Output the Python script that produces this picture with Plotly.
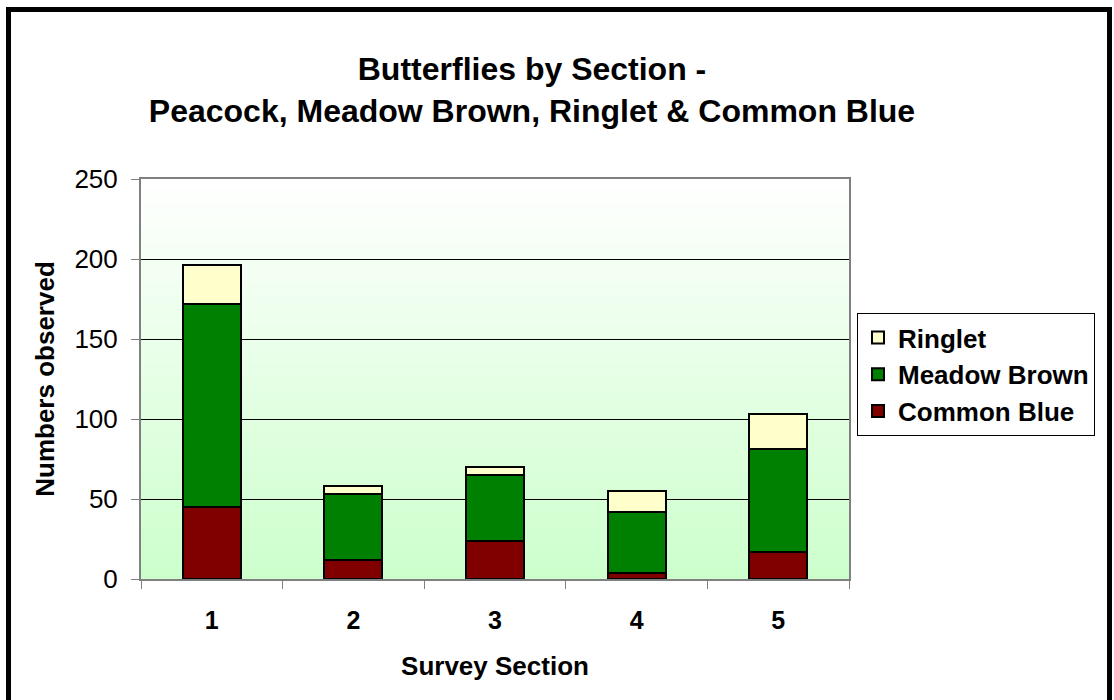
import plotly.graph_objects as go
import numpy as np

# Survey sections and counts per species
sections = ["1", "2", "3", "4", "5"]
common_blue = [45, 12, 24, 4, 17]
meadow_brown = [127, 41, 41, 38, 64]
ringlet = [24, 5, 5, 13, 22]

series = [
    ("Common Blue", common_blue, "#800000"),
    ("Meadow Brown", meadow_brown, "#008000"),
    ("Ringlet", ringlet, "#FFFFCC"),
]

FONT = "Liberation Sans, Arial, sans-serif"

fig = go.Figure()
for name, vals, col in series:
    fig.add_trace(go.Bar(
        x=sections, y=vals, name=name,
        marker=dict(color=col, line=dict(color="#000000", width=2)),
        width=0.41,
    ))

# Vertical gradient in the plotting area: white at top fading to pale green
shapes = []
n = 80
top = np.array([255, 255, 255])
bot = np.array([204, 255, 204])
for i in range(n):
    t = (i + 0.5) / n
    c = top * (1 - t) + bot * t
    shapes.append(dict(
        type="rect", xref="x domain", yref="y domain",
        x0=0, x1=1, y0=1 - (i + 1) / n, y1=1 - i / n + 0.002,
        fillcolor="rgb(%d,%d,%d)" % tuple(c.round().astype(int)),
        line=dict(width=0), layer="below",
    ))

# Outer chart frame
shapes.append(dict(
    type="rect", xref="paper", yref="paper",
    x0=(8.5 - 141) / 708, x1=(1109.5 - 141) / 708,
    y0=(579 - 710) / 400, y1=(579 - 9.5) / 400,
    line=dict(color="#000000", width=5), fillcolor="rgba(0,0,0,0)",
    layer="above",
))

fig.update_layout(
    width=1114, height=700,
    margin=dict(l=141, r=265, t=179, b=121),
    paper_bgcolor="#FFFFFF", plot_bgcolor="#FFFFFF",
    barmode="stack", bargap=0.59,
    shapes=shapes,
    font=dict(family=FONT, color="#000000"),
    title=dict(
        text="<b>Butterflies by Section -<br>Peacock, Meadow Brown, Ringlet & Common Blue</b>",
        x=532 / 1114, xanchor="center", y=1 - 80 / 700, yanchor="middle",
        font=dict(size=32, family=FONT, color="#000000"),
    ),
    legend=dict(
        x=(857 - 141) / 708, xanchor="left",
        y=(579 - 313) / 400, yanchor="top",
        traceorder="reversed",
        bgcolor="#FFFFFF", bordercolor="#000000", borderwidth=1,
        font=dict(size=26, family=FONT, color="#000000", weight="bold"),
        itemsizing="constant", tracegroupgap=0,
    ),
    xaxis=dict(
        type="category", tickson="boundaries",
        ticks="outside", ticklen=8, tickcolor="#808080", tickwidth=1,
        showline=True, linecolor="#808080", linewidth=2, mirror=True,
        showgrid=False,
        tickfont=dict(size=25, family=FONT, weight="bold"),
        ticklabelstandoff=18,
        title=dict(text="<b>Survey Section</b>", font=dict(size=26, family=FONT), standoff=24),
    ),
    yaxis=dict(
        range=[0, 250], tickvals=[0, 50, 100, 150, 200, 250],
        ticks="outside", ticklen=8, tickcolor="#808080", tickwidth=1,
        showline=True, linecolor="#808080", linewidth=2, mirror=True,
        showgrid=True, gridcolor="#000000", gridwidth=1, zeroline=False,
        tickfont=dict(size=26, family=FONT),
        ticklabelstandoff=8,
        title=dict(text="<b>Numbers observed</b>", font=dict(size=26, family=FONT), standoff=12),
    ),
)

fig.write_html("out.html")
